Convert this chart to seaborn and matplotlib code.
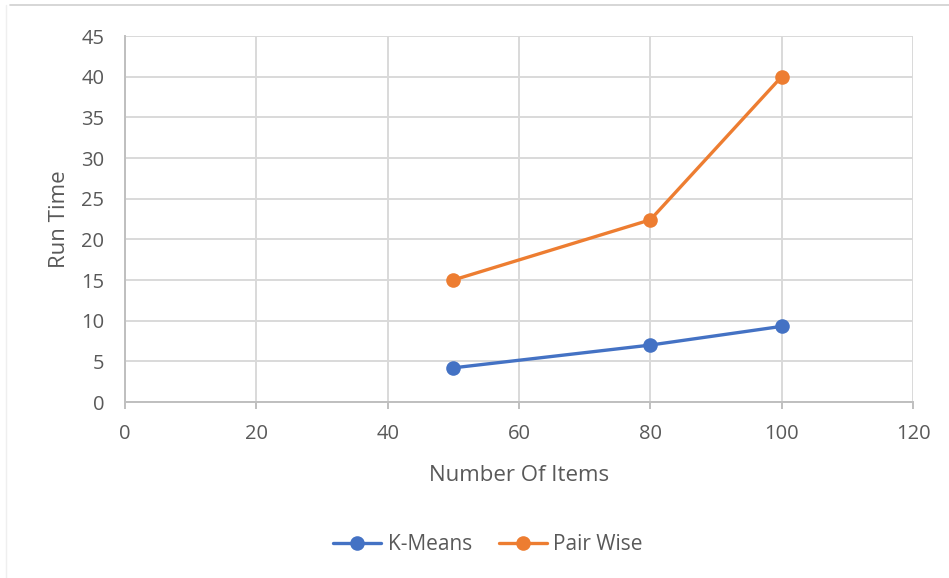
import matplotlib
matplotlib.use("Agg")
import matplotlib.pyplot as plt
import matplotlib.lines as mlines
import seaborn as sns
import pandas as pd

items = [50, 80, 100]
kmeans_time = [4.2, 7.0, 9.3]
pairwise_time = [15.0, 22.4, 40.0]
series_names = ["K-Means", "Pair Wise"]
x_ticks = [0, 20, 40, 60, 80, 100, 120]
y_ticks = [0, 5, 10, 15, 20, 25, 30, 35, 40, 45]

df = pd.DataFrame({
    "Number Of Items": items * 2,
    "Run Time": kmeans_time + pairwise_time,
    "Method": [series_names[0]] * len(items) + [series_names[1]] * len(items),
})

sns.set_theme(style="white")
plt.rcParams["font.family"] = ["Open Sans", "DejaVu Sans"]

palette = {"K-Means": "#4472C4", "Pair Wise": "#ED7D31"}
grid_c = "#D9D9D9"
text_c = "#595959"

fig = plt.figure(figsize=(9.49, 5.78), dpi=100)
ax = fig.add_axes([125 / 949, 1 - 402 / 578, (913 - 125) / 949, (402 - 36) / 578])

sns.lineplot(data=df, x="Number Of Items", y="Run Time", hue="Method",
             palette=palette, marker="o", markersize=10.5, linewidth=2.4,
             markeredgewidth=0, legend=False, ax=ax, zorder=3)

ax.set_xlim(0, 120)
ax.set_ylim(0, 45)
ax.set_xticks(x_ticks)
ax.set_yticks(y_ticks)
ax.grid(True, color=grid_c, linewidth=1.4, zorder=0)
ax.set_axisbelow(True)
for side in ["top", "right"]:
    ax.spines[side].set_visible(False)
for side in ["left", "bottom"]:
    ax.spines[side].set_color("#BFBFBF")
    ax.spines[side].set_linewidth(1.4)
ax.tick_params(axis="x", which="both", bottom=True, length=5, width=1.4,
               color="#BFBFBF", labelsize=14.5, labelcolor=text_c, pad=11)
ax.tick_params(axis="y", which="both", left=False, length=0, labelsize=14.5,
               labelcolor=text_c, pad=15)
ax.set_xlabel("Number Of Items", fontsize=16, color=text_c, labelpad=15)
ax.set_ylabel("Run Time", fontsize=16, color=text_c, labelpad=8)

handles = [mlines.Line2D([], [], color=palette[n], marker="o", markersize=10.5,
                         markeredgewidth=0, linewidth=2.4) for n in series_names]
leg = fig.legend(handles, series_names, loc="center", bbox_to_anchor=(488 / 949, 1 - 545 / 578),
                 ncol=2, frameon=False, fontsize=15, handlelength=2.3,
                 handletextpad=0.3, columnspacing=1.3)
for t in leg.get_texts():
    t.set_color(text_c)

# thin frame lines along the top and left edge of the chart area
fig.add_artist(mlines.Line2D([10 / 949, 1], [1 - 5 / 578, 1 - 5 / 578],
                             color="#D0D0D0", linewidth=1.2, transform=fig.transFigure))
fig.add_artist(mlines.Line2D([6 / 949, 6 / 949], [0, 1 - 5 / 578],
                             color="#EFEFEF", linewidth=1.0, transform=fig.transFigure))

fig.savefig("out.png", dpi=100, facecolor="white")
